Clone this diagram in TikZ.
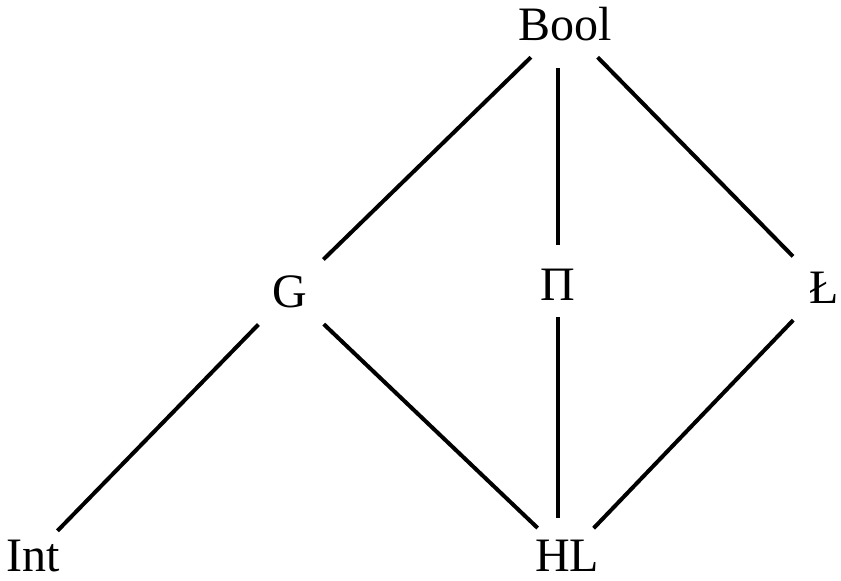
\documentclass[tikz,border=0pt]{standalone}
\usepackage{fontspec}
\setmainfont{Liberation Serif}
\begin{document}
\begin{tikzpicture}[x=0.5pt,y=-0.5pt,
    lat/.style={inner sep=8pt,font=\fontsize{24}{28}\selectfont},
    order/.style={line width=2pt}]
  \useasboundingbox (0,0) rectangle (841,580);
  %% elements
  \node[lat] (bool) at (565,24) {Bool};
  \node[lat] (g) at (290,292) {G};
  \node[lat] (pi) at (558,285) {Π};
  \node[lat] (luk) at (824,288) {Ł};
  \node[lat] (int) at (33,556) {Int};
  \node[lat] (hl) at (567,556) {HL};
  %% order
  \draw[order] (bool) -- (g);
  \draw[order,shorten >=5.5pt,shorten <=4pt] (pi) -- (bool.south -| pi);
  \draw[order] (bool) -- (luk);
  \draw[order,shorten >=-5pt] (g) -- (int);
  \draw[order,shorten >=-3pt] (g) -- (hl);
  \draw[order,shorten >=3pt] (pi) -- (hl.north -| pi);
  \draw[order,shorten >=-3pt] (luk) -- (hl);
\end{tikzpicture}
\end{document}
